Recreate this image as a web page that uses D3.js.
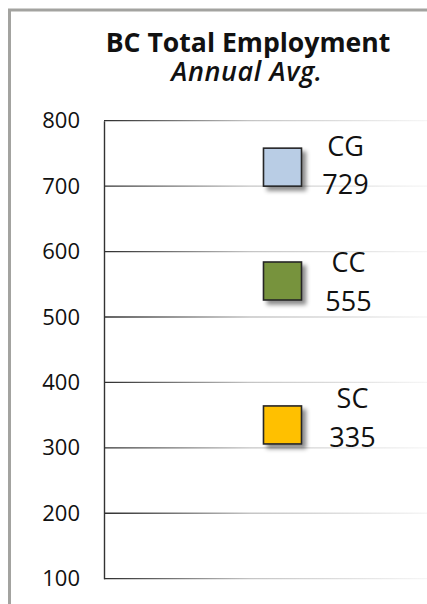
<!DOCTYPE html>
<html>
<head>
<meta charset="utf-8">
<script src="https://cdn.jsdelivr.net/npm/d3@7"></script>
<style>
  html, body { margin: 0; padding: 0; background: #fff; }
  svg { display: block; font-family: "Open Sans", "Noto Sans", sans-serif; }
</style>
</head>
<body>
<svg id="chart" width="427" height="604"></svg>
<script>
// Employment by region (thousands), annual average
const regions = ["CG", "CC", "SC"];
const employment = [729, 555, 335];
const fills = ["#b9cde5", "#77933c", "#ffc000"];
const yTicks = [100, 200, 300, 400, 500, 600, 700, 800];
// small per-label nudges so labels sit clear of the squares
const labelNudge = [[0, -11, 27], [3, -9, 30], [7, -17, 22]];

const svg = d3.select("#chart");
const W = 427, H = 604;
const margin = { left: 104, top: 120.7, bottom: 578.7, right: 427 };

const defs = svg.append("defs");
const grad = defs.append("linearGradient")
  .attr("id", "gridFade").attr("gradientUnits", "userSpaceOnUse")
  .attr("x1", margin.left).attr("x2", margin.right).attr("y1", 0).attr("y2", 0);
grad.append("stop").attr("offset", 0).attr("stop-color", "#2e2e2e");
grad.append("stop").attr("offset", 0.45).attr("stop-color", "#c4c4c4");
grad.append("stop").attr("offset", 1).attr("stop-color", "#f6f6f6");

const shadow = defs.append("filter").attr("id", "shadow")
  .attr("x", "-30%").attr("y", "-30%").attr("width", "170%").attr("height", "170%");
shadow.append("feDropShadow").attr("dx", 4).attr("dy", 4)
  .attr("stdDeviation", 2.2).attr("flood-color", "#000").attr("flood-opacity", 0.45);

// outer frame (top and left edges)
svg.append("path")
  .attr("d", `M9.5,${H} V10 H${W}`)
  .attr("fill", "none").attr("stroke", "#a3a3a0").attr("stroke-width", 3);

// title
const title = svg.append("g").attr("text-anchor", "middle").attr("fill", "#111");
title.append("text").attr("x", 248).attr("y", 52)
  .attr("font-weight", 700).attr("font-size", 26.6).text("BC Total Employment");
title.append("text").attr("x", 247).attr("y", 81)
  .attr("font-style", "italic").attr("font-weight", 600).attr("font-size", 27)
  .attr("letter-spacing", 0.6).text("Annual Avg.");

const y = d3.scaleLinear().domain([100, 800]).range([margin.bottom, margin.top]);
const x = d3.scaleBand().domain(["BC"]).range([200, 365]);

// gridlines
svg.append("g").selectAll("line").data(yTicks).join("line")
  .attr("x1", margin.left).attr("x2", margin.right)
  .attr("y1", d => y(d)).attr("y2", d => y(d))
  .attr("stroke", "url(#gridFade)").attr("stroke-width", 1.3);

// value axis
const axis = svg.append("g").attr("transform", `translate(${margin.left},0)`)
  .call(d3.axisLeft(y).tickValues(yTicks).tickSize(0).tickPadding(24));
axis.select(".domain").attr("stroke", "#333").attr("stroke-width", 1.4);
axis.selectAll("text").attr("font-size", 22).attr("fill", "#111")
  .attr("font-family", "'Open Sans', 'Noto Sans', sans-serif");

// markers
const side = 38;
const cx = x("BC") + x.bandwidth() / 2;
svg.append("g").selectAll("rect").data(employment).join("rect")
  .attr("x", cx - side / 2).attr("y", d => y(d) - side / 2)
  .attr("width", side).attr("height", side)
  .attr("fill", (d, i) => fills[i])
  .attr("stroke", "#262626").attr("stroke-width", 1.6)
  .attr("filter", "url(#shadow)");

// labels: region name above, value below
const labels = svg.append("g").attr("text-anchor", "middle").attr("fill", "#111").attr("font-size", 27);
employment.forEach((v, i) => {
  const [dx, dyName, dyVal] = labelNudge[i];
  const lx = cx + 63 + dx;
  labels.append("text").attr("x", lx).attr("y", y(v) + dyName).text(regions[i]);
  labels.append("text").attr("x", lx).attr("y", y(v) + dyVal).text(v);
});
</script>
</body>
</html>
